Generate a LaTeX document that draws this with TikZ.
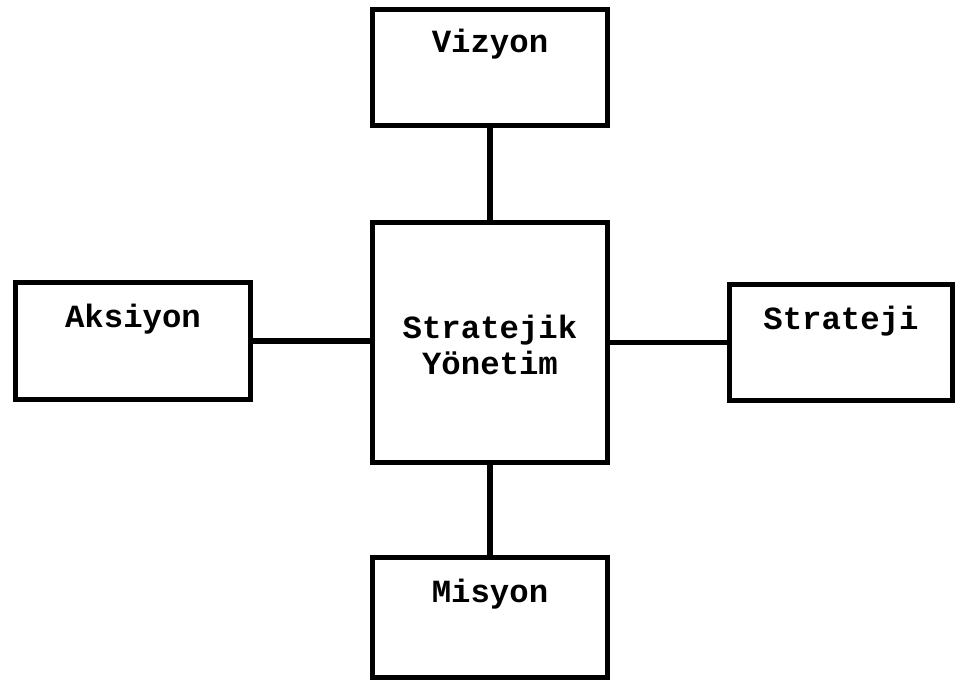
\documentclass[tikz,border=0pt]{standalone}
\usepackage{fontspec}
\setmonofont{Liberation Mono}
\usepackage{tikz}
\usetikzlibrary{positioning}
\tikzset{
  box/.style    ={draw=black, line width=3.8pt, fill=white, inner sep=0pt,
                  minimum width=5.875cm, minimum height=2.9cm, align=center,
                  font=\fontsize{23}{25}\selectfont\ttfamily\bfseries},
  topbox/.style ={box, text height=16pt, text depth=38pt},
  link/.style   ={draw=black, line width=3.8pt},
}

\begin{document}
\begin{tikzpicture}
  \useasboundingbox (0,0) rectangle (24.125,-17.1);

  % ---- the centre -------------------------------------------------------
  \node[box, minimum height=6cm, text height=50pt, text depth=5pt] (sy)
    at (12.25,-8.5625) {Stratejik\\Yönetim};

  % ---- the four around it -----------------------------------------------
  \node[topbox] (viz) at (12.25,-1.6875) {Vizyon};
  \node[topbox, minimum height=3cm] (mis) at (12.25,-15.4375) {Misyon};
  \node[topbox, minimum height=2.925cm, text depth=35pt] (aks)
    at (3.325,-8.525) {Aksiyon};
  \node[topbox, minimum width=5.575cm, text depth=35pt] (str)
    at (21.025,-8.5625) {Strateji};

  % ---- links ------------------------------------------------------------
  \draw[link] (viz) -- (sy);
  \draw[link] (sy) -- (mis);
  \draw[link] (aks.east) -- (aks.east -| sy.west);
  \draw[link] (sy.east) -- (sy.east -| str.west);
\end{tikzpicture}
\end{document}
